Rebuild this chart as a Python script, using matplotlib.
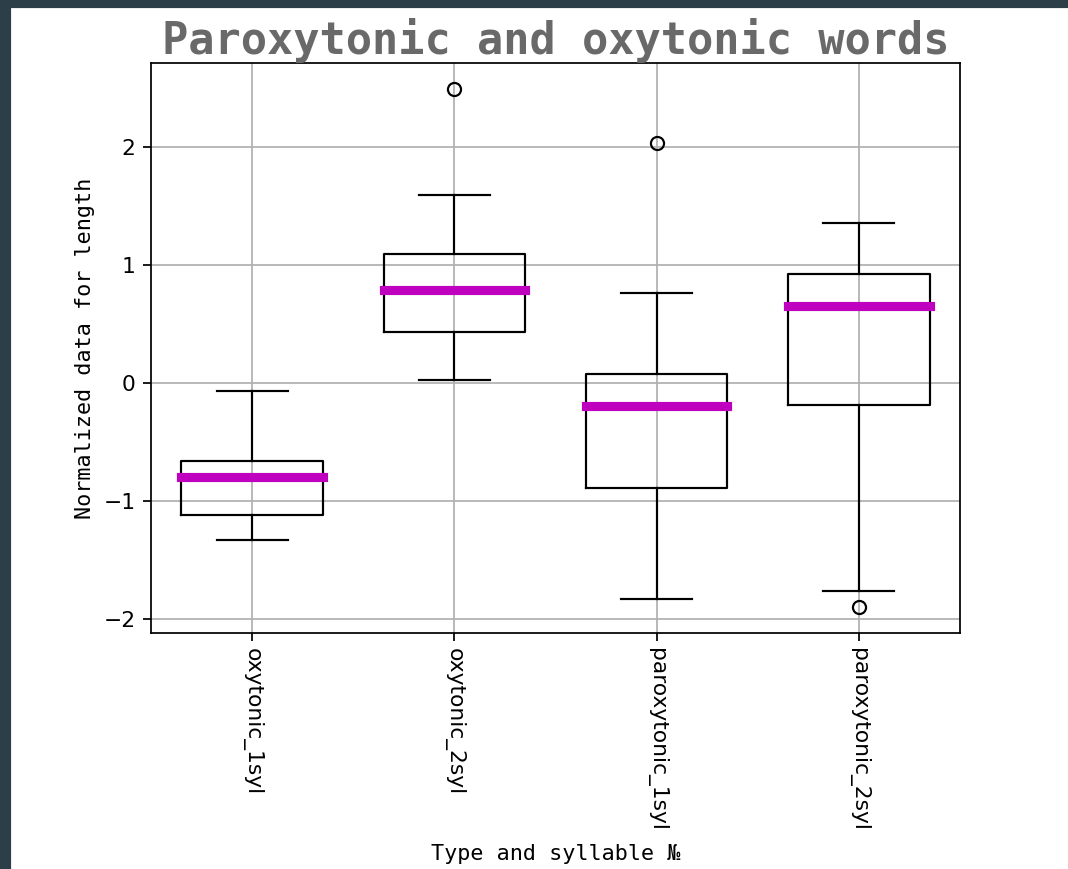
import matplotlib
matplotlib.use("Agg")
import matplotlib.pyplot as plt
from matplotlib.patches import Rectangle

categories = ["oxytonic_1syl", "oxytonic_2syl", "paroxytonic_1syl", "paroxytonic_2syl"]
medians = [-0.80, 0.786, -0.198, 0.649]
q1 = [-1.116, 0.430, -0.886, -0.189]
q3 = [-0.660, 1.091, 0.077, 0.924]
whisker_low = [-1.328, 0.028, -1.829, -1.761]
whisker_high = [-0.070, 1.593, 0.762, 1.357]
fliers = [[], [2.488], [2.028], [-1.897]]

DPI = 157
W, H = 1068, 869
fig = plt.figure(figsize=(W / DPI, H / DPI), dpi=DPI)
fig.patch.set_facecolor("white")

# dark screenshot frame (top & left)
frame = "#2c3e47"
fig.add_artist(Rectangle((0, 1 - 7 / H), 1, 7 / H, transform=fig.transFigure,
                         color=frame, zorder=-5))
fig.add_artist(Rectangle((0, 0), 10 / W, 1, transform=fig.transFigure,
                         color=frame, zorder=-5))

ax = fig.add_axes([151 / W, 1 - 633 / H, (960 - 151) / W, (633 - 63) / H])

stats = []
for i, name in enumerate(categories):
    stats.append(dict(label=name, med=medians[i], q1=q1[i], q3=q3[i],
                      whislo=whisker_low[i], whishi=whisker_high[i],
                      fliers=fliers[i]))

ax.bxp(stats, positions=range(1, len(categories) + 1), widths=0.7,
       boxprops=dict(color="black", linewidth=1.0),
       whiskerprops=dict(color="black", linewidth=1.0),
       capprops=dict(color="black", linewidth=1.0),
       medianprops=dict(color="#bf00bf", linewidth=4.2,
                        solid_capstyle="projecting"),
       flierprops=dict(marker="o", markerfacecolor="none",
                       markeredgecolor="black", markersize=6))

ax.grid(True, color="#b0b0b0", linewidth=0.8)
ax.set_axisbelow(True)
ax.set_yticks([-2, -1, 0, 1, 2])
ax.set_xticks(range(1, len(categories) + 1))
ax.set_xticklabels(categories, rotation=-90)

ax.set_title("Paroxytonic and oxytonic words", fontsize=20, fontweight="bold",
             family="DejaVu Sans Mono", color="#696969", pad=4)
ax.set_ylabel("Normalized data for length", family="DejaVu Sans Mono")
ax.set_xlabel("Type and syllable №", family=["DejaVu Sans Mono", "DejaVu Sans"],
              labelpad=6)

fig.savefig("out.png", dpi=DPI)
